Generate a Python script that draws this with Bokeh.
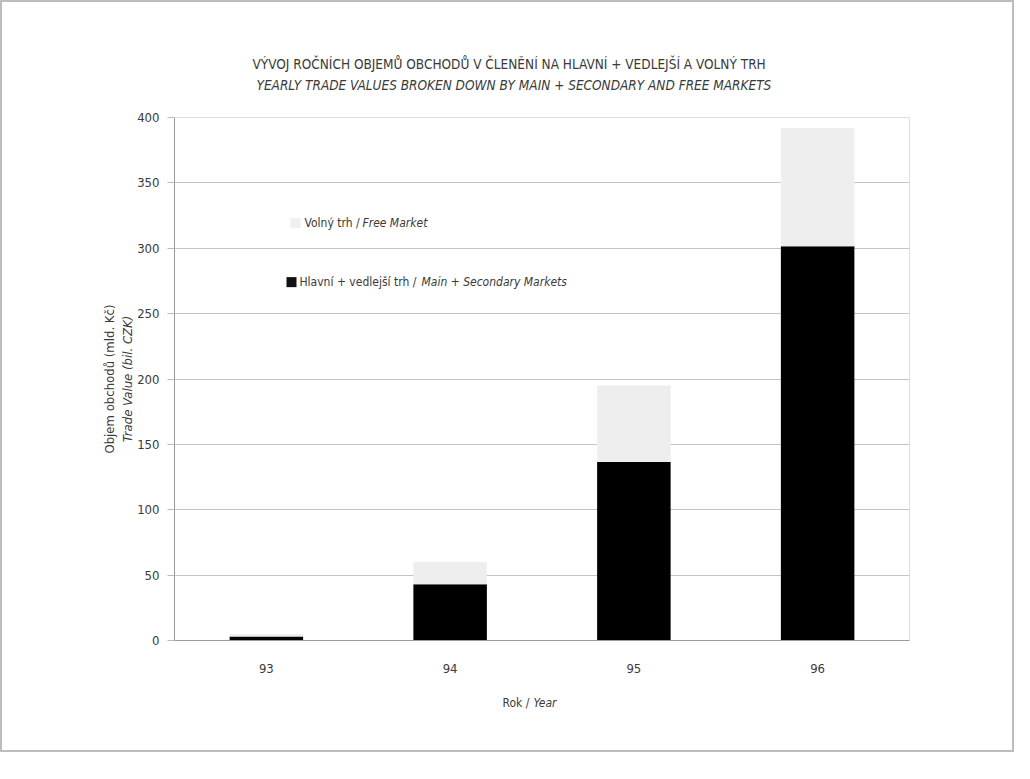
from bokeh.plotting import figure
from bokeh.models import Label, BoxAnnotation, FactorRange, Range1d, FixedTicker, Title
from bokeh.embed import file_html
from bokeh.resources import INLINE

# ---- data ----
years = ["93", "94", "95", "96"]
main_secondary = [3, 43, 136.5, 301.5]   # Hlavní + vedlejší trh
free_market = [2, 17, 58.5, 90.5]        # Volný trh
y_ticks = [0, 50, 100, 150, 200, 250, 300, 350, 400]

FONT = "DejaVu Sans Condensed"
TXT = "#3a3a3a"

W, H = 1014, 752
p = figure(x_range=FactorRange(*years), y_range=Range1d(0, 400),
           width=W, height=H, title=None, output_backend="svg",
           toolbar_location=None,
           min_border_left=172, min_border_right=107,
           min_border_top=115, min_border_bottom=114,
           styles={"border": "2px solid #bdbdbd"})

src = dict(years=years, main=main_secondary, free=free_market)
p.vbar_stack(["main", "free"], x="years", source=src, width=0.4,
             color=["#000000", "#eeeeee"], line_color=None)

# axes
p.yaxis.ticker = FixedTicker(ticks=y_ticks)
p.yaxis.axis_line_color = "#9a9a9a"
p.yaxis.major_tick_line_color = "#bbbbbb"
p.yaxis.major_tick_out = 7
p.yaxis.major_tick_in = 0
p.yaxis.minor_tick_line_color = None
p.yaxis.major_label_text_font = FONT
p.yaxis.major_label_text_font_size = "13px"
p.yaxis.major_label_text_color = TXT
p.yaxis.major_label_standoff = 8

p.xaxis.axis_line_color = "#9a9a9a"
p.xaxis.major_tick_line_color = None
p.xaxis.minor_tick_line_color = None
p.xaxis.major_label_text_font = FONT
p.xaxis.major_label_text_font_size = "13px"
p.xaxis.major_label_text_color = TXT
p.xaxis.major_label_standoff = 17

p.xgrid.grid_line_color = None
p.ygrid.ticker = FixedTicker(ticks=y_ticks)
p.ygrid.grid_line_color = "#c4c4c4"
p.ygrid.grid_line_width = 1
p.outline_line_color = "#dddddd"
p.background_fill_color = "white"
p.border_fill_color = "white"

def title(text, side, italic=False, size="12px", align="center", offset=0,
          standoff=10, valign="bottom"):
    p.add_layout(Title(text=text, text_font=FONT, text_font_size=size,
                       text_color=TXT, text_font_style="italic" if italic else "normal",
                       align=align, offset=offset, standoff=standoff,
                       vertical_align=valign), side)

# titles (first added sits closest to the frame)
title("YEARLY TRADE VALUES BROKEN DOWN BY MAIN + SECONDARY AND FREE MARKETS",
      "above", italic=True, size="13.5px", align="left", offset=82, standoff=50)
title("VÝVOJ ROČNÍCH OBJEMŮ OBCHODŮ V ČLENĚNÍ NA HLAVNÍ + VEDLEJŠÍ A VOLNÝ TRH",
      "above", size="13.5px", align="left", offset=78, standoff=-44)

# y axis label (two lines)
title("Trade Value (bil. CZK)", "left", italic=True, size="13px", standoff=0)
title("Objem obchodů (mld. Kč)", "left", size="13px", standoff=2)

# x axis label: "Rok /" upright, "Year" italic on the same line
title("Rok /", "below", size="12px", align="left", offset=328, standoff=36)
title("Year", "below", italic=True, size="12px", align="left", offset=359,
      standoff=-64, valign="top")

# pixel -> data helpers for in-frame text placement
FX0, FX1, FY0, FY1 = 180.0, 915.0, 125.0, 646.0
def xd(px):
    return (px - FX0) / ((FX1 - FX0) / len(years))
def yd(py):
    return (FY1 - py) * 400.0 / (FY1 - FY0)

def lab(text, px, py, italic=False, size="12px"):
    p.add_layout(Label(x=xd(px), y=yd(py), text=text, text_font=FONT,
                       text_font_size=size, text_color=TXT,
                       text_font_style="italic" if italic else "normal",
                       text_align="left", text_baseline="middle"))

# legend
p.add_layout(BoxAnnotation(left=xd(296), right=xd(306), top=yd(225), bottom=yd(235),
                           fill_color="#f0f0f0", fill_alpha=1, line_color=None))
lab("Volný trh /", 310, 230)
lab("Free Market", 368, 230, italic=True)
p.add_layout(BoxAnnotation(left=xd(292), right=xd(302), top=yd(284), bottom=yd(294),
                           fill_color="#111111", fill_alpha=1, line_color=None))
lab("Hlavní + vedlejší trh /", 305, 289)
lab("Main + Secondary Markets", 427, 289, italic=True)

open("out.html", "w").write(file_html(p, INLINE))
